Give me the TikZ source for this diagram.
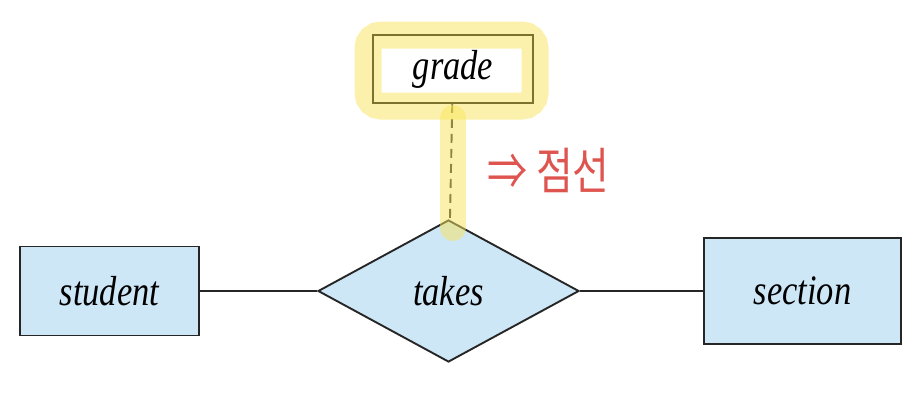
\documentclass[tikz,border=0pt]{standalone}
\usepackage{fontspec}
\usetikzlibrary{shapes.geometric}
\usetikzlibrary{math}
\newfontfamily\erfont[FakeStretch=0.82]{Liberation Serif}
\newfontfamily\hanfont[FakeStretch=0.8]{Noto Sans CJK KR}
\definecolor{erblue}{RGB}{206,231,247}
\definecolor{marker}{RGB}{248,228,90}
\definecolor{pen}{RGB}{222,84,78}
\tikzset{entity/.style={draw=black!85, fill=erblue, line width=1.9pt, inner sep=0pt, font=\erfont\itshape\fontsize{42}{44}\selectfont},
	relation/.style={diamond, draw=black!85, fill=erblue, line width=1.9pt, inner sep=0pt, minimum width=261, minimum height=142, font=\erfont\itshape\fontsize{42}{44}\selectfont},
	attr/.style={draw=black, fill=white, line width=1.9pt, minimum width=160, minimum height=68, font=\erfont\itshape\fontsize{42}{44}\selectfont},
	link/.style={draw=black!85, line width=1.9pt},
	highlight/.style={draw=marker, opacity=0.5, line width=#1},highlight/.default={26pt}}

\begin{document}
\begin{tikzpicture}[x=1pt,y=-1pt]
	\tikzmath{\ry=291; \gx=453; \gy=69;}
	\useasboundingbox (0,0) rectangle (920,400);
	\node[entity, minimum width=179, minimum height=89] (student) at (109.5,\ry) {student};
	\node[relation] (takes) at (448.5,\ry) {takes};
	\node[entity, minimum width=197, minimum height=106] (section) at (802.5,\ry) {section};
	\node[attr] (grade) at (\gx,\gy) {grade};
	\draw[link] (student) -- (takes);
	\draw[link] (takes) -- (section);
	\draw[link, dash pattern=on 9pt off 6pt] (grade) -- (takes);

	% marker on top
	\draw[highlight=27pt, rounded corners=13pt] (368,35) rectangle (535,106);
	\draw[highlight, line cap=round] (453,118) -- (453,228);
	\node[anchor=west, text=pen, inner sep=0pt, font=\hanfont\fontsize{50}{54}\selectfont] (note) at (487,170) {⇒ 점선};
\end{tikzpicture}
\end{document}
